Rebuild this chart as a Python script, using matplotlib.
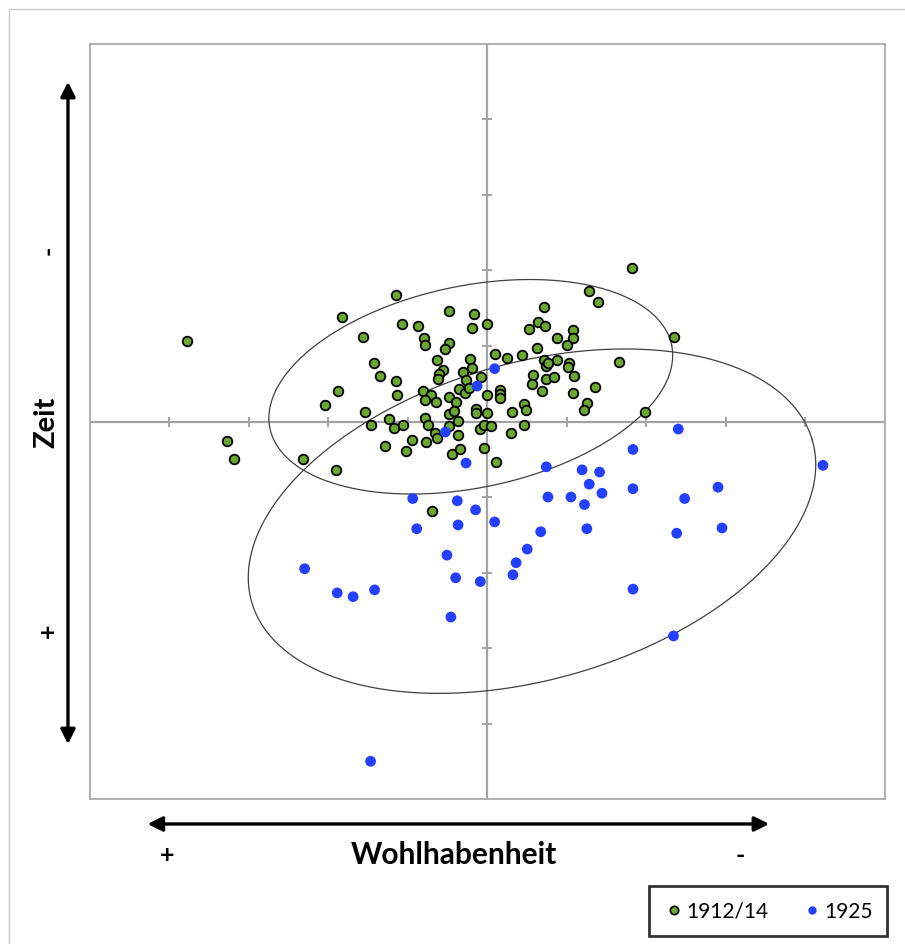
import numpy as np
import matplotlib.pyplot as plt
from matplotlib.patches import FancyArrowPatch, Rectangle
from matplotlib.lines import Line2D

plt.rcParams['font.family'] = ['Lato', 'DejaVu Sans']

# 1912/14 (green)
x_1912 = [-3.78, -1.83, -1.15, -1.57, -1.07, -0.87, -0.48, -0.17, -0.19, -0.01,
          -0.80, -0.79, -0.48, -0.54, -1.43, -1.35, -1.15, -0.63, -0.22, -0.19,
          -0.56, -0.61, -0.62, -0.31, -0.27, -0.08, -1.88, -2.04, -1.14, -0.81,
          -0.71, -0.79, -0.65, -0.49, -0.39, -0.36, -0.28, -0.23, -0.01, -1.54,
          -1.24, -0.79, -0.48, -0.42, -0.15, -0.14, -0.37, -0.01, -1.46, -1.18,
          -1.06, -0.75, -0.48, -0.09, -0.04, -0.95, -0.77, -0.66, -0.64, -0.37,
          -1.29, -1.03, -0.44, -0.35, -0.04, -3.27, -3.19, -2.32, -1.91, 1.82,
          1.28, 1.39, 0.71, 0.63, 0.72, 0.52, 1.08, 1.08, 0.87, 1.00,
          0.62, 0.09, 0.25, 0.43, 0.71, 0.87, 0.74, 0.76, 1.02, 1.01,
          1.65, 2.34, 0.57, 0.56, 0.73, 0.84, 1.09, 0.68, 1.08, 1.35,
          0.16, 0.16, 0.16, 0.46, 0.49, 0.31, 1.25, 1.22, 1.98, 0.46,
          0.04, 0.29, 0.11, -0.70]
y_1912 = [1.07, 1.38, 1.67, 1.12, 1.29, 1.26, 1.46, 1.43, 1.24, 1.29,
          1.11, 1.01, 1.04, 0.96, 0.78, 0.60, 0.54, 0.81, 0.83, 0.71,
          0.68, 0.63, 0.56, 0.66, 0.55, 0.59, 0.40, 0.22, 0.35, 0.40,
          0.35, 0.29, 0.26, 0.32, 0.26, 0.43, 0.38, 0.45, 0.35, 0.12,
          0.03, 0.04, 0.10, 0.14, 0.17, 0.11, 0.01, 0.11, -0.05, -0.08,
          -0.04, -0.05, -0.06, -0.10, -0.04, -0.25, -0.27, -0.15, -0.22, -0.18,
          -0.33, -0.39, -0.43, -0.36, -0.35, -0.26, -0.49, -0.49, -0.64, 2.03,
          1.73, 1.58, 1.52, 1.32, 1.26, 1.23, 1.21, 1.10, 1.11, 1.01,
          0.98, 0.89, 0.84, 0.88, 0.82, 0.81, 0.74, 0.77, 0.77, 0.72,
          0.79, 1.12, 0.62, 0.50, 0.56, 0.59, 0.60, 0.41, 0.38, 0.46,
          0.42, 0.37, 0.31, 0.23, 0.15, 0.13, 0.24, 0.15, 0.12, -0.04,
          -0.06, -0.15, -0.54, -1.18]

# 1925 (blue)
x_1925 = [-0.13, 0.09, -0.53, -0.27, -0.94, -0.38, -0.15, 0.09, -0.89, -0.37,
          0.50, 0.36, 0.32, -0.51, -0.40, -0.09, -2.30, -1.89, -1.69, -1.42,
          -0.46, -1.47, 2.40, 1.83, 4.22, 0.74, 1.19, 1.41, 1.28, 1.44,
          1.83, 2.90, 0.76, 1.05, 2.48, 1.22, 1.25, 0.67, 2.38, 2.95,
          1.83, 2.34]
y_1925 = [0.47, 0.70, -0.14, -0.55, -1.02, -1.05, -1.17, -1.33, -1.42, -1.37,
          -1.69, -1.87, -2.03, -1.77, -2.07, -2.12, -1.95, -2.27, -2.32, -2.23,
          -2.59, -4.50, -0.10, -0.37, -0.58, -0.60, -0.64, -0.67, -0.83, -0.95,
          -0.89, -0.87, -1.00, -1.00, -1.02, -1.10, -1.42, -1.46, -1.48, -1.41,
          -2.22, -2.84]

# ellipses: centre x, centre y, semi axis a, semi axis b, tilt in degrees
ell_1912 = (-0.21, 0.46, 2.58, 1.27, 11.7)
ell_1925 = (0.56, -1.32, 3.67, 1.99, 16.1)

tick_vals = [-4, -3, -2, -1, 1, 2, 3, 4]

green = '#6aa832'
blue = '#2340ff'
grey = '#a3a3a3'

fig = plt.figure(figsize=(9.05, 9.45), dpi=100)
ax = fig.add_axes([0.0994, 0.1534, 0.8785, 0.799])
ax.set_xlim(-5, 5)
ax.set_ylim(-5, 5)
ax.set_xticks([])
ax.set_yticks([])
for s in ax.spines.values():
    s.set_color(grey)
    s.set_linewidth(1.2)

ax.axhline(0, color=grey, lw=1.6, zorder=1)
ax.axvline(0, color=grey, lw=1.6, zorder=1)
ax.plot(tick_vals, np.zeros(len(tick_vals)), ls='none', marker='|', ms=7,
        mew=1.4, color=grey, zorder=1)
ax.plot(np.zeros(len(tick_vals)), tick_vals, ls='none', marker='_', ms=7,
        mew=1.4, color=grey, zorder=1)

# pixel aspect so the ellipses keep their shape on screen
pos = ax.get_position()
k = (pos.width * fig.get_figwidth()) / (pos.height * fig.get_figheight())
t = np.linspace(0, 2 * np.pi, 400)
for cx, cy, a, b, ang in [ell_1912, ell_1925]:
    th = np.radians(ang)
    u = a * np.cos(t) * np.cos(th) - b * np.sin(t) * np.sin(th)
    v = a * np.cos(t) * np.sin(th) + b * np.sin(t) * np.cos(th)
    ax.plot(cx + u, cy + v * k, color='#404040', lw=0.9, zorder=2)

ax.scatter(x_1912, y_1912, s=48, c=green, edgecolors='black', linewidths=1.3, zorder=3)
ax.scatter(x_1925, y_1925, s=60, c=blue, edgecolors='none', zorder=4)

# arrows outside the plot
fig.add_artist(FancyArrowPatch((0.0751, 0.2085), (0.0751, 0.9153), transform=fig.transFigure,
                               arrowstyle='<|-|>', mutation_scale=22, lw=2.4, color='black'))
fig.add_artist(FancyArrowPatch((0.160, 0.127), (0.853, 0.127), transform=fig.transFigure,
                               arrowstyle='<|-|>', mutation_scale=22, lw=2.4, color='black'))

fig.text(0.051, 1 - 422 / 945, 'Zeit', rotation=90, fontsize=21, fontweight='bold',
         ha='center', va='center')
fig.text(0.053, 1 - 250 / 945, '-', rotation=90, fontsize=18, fontweight='bold',
         ha='center', va='center')
fig.text(0.053, 1 - 631 / 945, '+', rotation=90, fontsize=18, fontweight='bold',
         ha='center', va='center')
fig.text(454 / 905, 1 - 855 / 945, 'Wohlhabenheit', fontsize=21.5, fontweight='bold',
         ha='center', va='center')
fig.text(167 / 905, 1 - 856 / 945, '+', fontsize=18, fontweight='bold',
         ha='center', va='center')
fig.text(740 / 905, 1 - 856 / 945, '-', fontsize=18, fontweight='bold',
         ha='center', va='center')

handles = [Line2D([], [], ls='none', marker='o', ms=6, mfc=green, mec='black', mew=1.2),
           Line2D([], [], ls='none', marker='o', ms=6, mfc=blue, mec='none')]
leg = fig.legend(handles, ['1912/14', '1925'], loc='center', ncol=2,
                 bbox_to_anchor=(768 / 905, 1 - 912 / 945), fontsize=15,
                 frameon=True, fancybox=False, handletextpad=0.1,
                 handlelength=1.0, columnspacing=1.6, borderpad=0.7)
leg.get_frame().set_edgecolor('black')
leg.get_frame().set_linewidth(2)

fig.add_artist(Rectangle((0.01, -0.01), 1.0, 0.999, transform=fig.transFigure,
                         fill=False, edgecolor='#c8c8c8', lw=1))

fig.savefig('out.png', dpi=100)
